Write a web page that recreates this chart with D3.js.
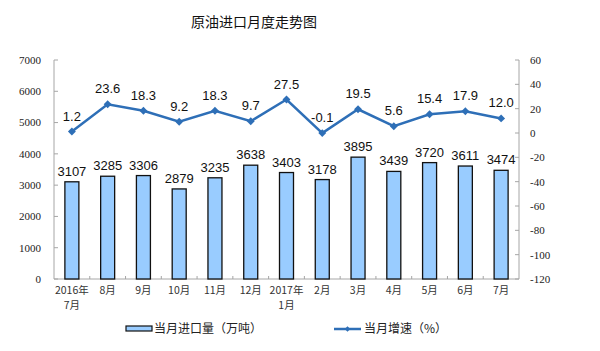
<!DOCTYPE html>
<html lang="zh">
<head>
<meta charset="utf-8">
<script src="https://cdn.jsdelivr.net/npm/d3@7"></script>
<style>
    body {margin: 0; background: #fff;}
    text {font-family: "Liberation Sans", Arial, sans-serif;}
    .cjk {font-family: "Noto Sans CJK SC", sans-serif;}
    .tick-num {font-family: "Liberation Serif", serif; font-size: 11px; fill: #222;}
</style>
</head>
<body>
<script>
    // chart data
    const categories = ["2016年|7月", "8月", "9月", "10月", "11月", "12月", "2017年|1月",
                        "2月", "3月", "4月", "5月", "6月", "7月"];
    const imports = [3107, 3285, 3306, 2879, 3235, 3638, 3403, 3178, 3895, 3439, 3720, 3611, 3474];
    const growth = [1.2, 23.6, 18.3, 9.2, 18.3, 9.7, 27.5, -0.1, 19.5, 5.6, 15.4, 17.9, 12.0];
    const leftTicks = [0, 1000, 2000, 3000, 4000, 5000, 6000, 7000];
    const rightTicks = [-120, -100, -80, -60, -40, -20, 0, 20, 40, 60];

    const dim = {width: 600, height: 351};
    const m = {left: 54, right: 519, top: 60, bottom: 279};

    const svg = d3.select("body").append("svg")
        .attr("width", dim.width)
        .attr("height", dim.height);

    const x = d3.scaleBand().domain(categories).range([m.left, m.right]);
    const yL = d3.scaleLinear().domain([0, 7000]).range([m.bottom, m.top]);
    const yR = d3.scaleLinear().domain([-120, 60]).range([m.bottom, m.top]);

    // title
    svg.append("text").attr("class", "cjk")
        .attr("x", 254).attr("y", 27)
        .attr("text-anchor", "middle")
        .style("font-size", "14px").style("fill", "#111")
        .text("原油进口月度走势图");

    const axisColor = "#a6a6a6";

    // left axis
    const gl = svg.append("g");
    gl.append("line").attr("x1", m.left).attr("x2", m.left)
        .attr("y1", m.top).attr("y2", m.bottom).attr("stroke", axisColor);
    leftTicks.forEach(t => {
        gl.append("line").attr("x1", m.left).attr("x2", m.left + 4)
            .attr("y1", yL(t)).attr("y2", yL(t)).attr("stroke", axisColor);
        gl.append("text").attr("class", "tick-num")
            .attr("x", 41).attr("y", yL(t)).attr("dy", "0.35em")
            .attr("text-anchor", "end").text(t);
    });

    // right axis
    const gr = svg.append("g");
    gr.append("line").attr("x1", m.right).attr("x2", m.right)
        .attr("y1", m.top).attr("y2", m.bottom).attr("stroke", axisColor);
    rightTicks.forEach(t => {
        gr.append("line").attr("x1", m.right - 4).attr("x2", m.right)
            .attr("y1", yR(t)).attr("y2", yR(t)).attr("stroke", axisColor);
        gr.append("text").attr("class", "tick-num")
            .attr("x", 530).attr("y", yR(t)).attr("dy", "0.35em")
            .attr("text-anchor", "start").text(t);
    });

    // bottom axis
    const gb = svg.append("g");
    gb.append("line").attr("x1", m.left).attr("x2", m.right)
        .attr("y1", m.bottom).attr("y2", m.bottom).attr("stroke", axisColor);
    categories.forEach((c, i) => {
        if (i > 0) {
            gb.append("line").attr("x1", x(c)).attr("x2", x(c))
                .attr("y1", m.bottom - 3).attr("y2", m.bottom).attr("stroke", axisColor);
        }
        const lines = c.split("|");
        lines.forEach((s, j) => {
            gb.append("text").attr("class", "cjk")
                .attr("x", x(c) + x.bandwidth() / 2)
                .attr("y", 294 + j * 15)
                .attr("text-anchor", "middle")
                .style("font-size", "10.5px").style("fill", "#333")
                .text(s);
        });
    });

    // bars
    const barW = 14;
    svg.append("g").selectAll("rect")
        .data(imports)
        .join("rect")
        .attr("x", (d, i) => x(categories[i]) + x.bandwidth() / 2 - barW / 2)
        .attr("y", d => yL(d))
        .attr("width", barW)
        .attr("height", d => yL(0) - yL(d))
        .attr("fill", "#99ccff")
        .attr("stroke", "#111")
        .attr("stroke-width", 1.3);

    svg.append("g").selectAll("text")
        .data(imports)
        .join("text")
        .attr("x", (d, i) => x(categories[i]) + x.bandwidth() / 2)
        .attr("y", d => yL(d) - 6)
        .attr("text-anchor", "middle")
        .style("font-size", "13px").style("fill", "#111")
        .text(d => d);

    // growth line
    const lineColor = "#2e6fb7";
    const line = d3.line()
        .x((d, i) => x(categories[i]) + x.bandwidth() / 2)
        .y(d => yR(d));

    svg.append("path")
        .datum(growth)
        .attr("d", line)
        .attr("fill", "none")
        .attr("stroke", lineColor)
        .attr("stroke-width", 2.5);

    const diamond = d3.symbol().type(d3.symbolDiamond2).size(40);
    svg.append("g").selectAll("path")
        .data(growth)
        .join("path")
        .attr("d", diamond)
        .attr("transform", (d, i) => `translate(${x(categories[i]) + x.bandwidth() / 2},${yR(d)})`)
        .attr("fill", lineColor);

    svg.append("g").selectAll("text")
        .data(growth)
        .join("text")
        .attr("x", (d, i) => x(categories[i]) + x.bandwidth() / 2)
        .attr("y", d => yR(d) - 11)
        .attr("text-anchor", "middle")
        .style("font-size", "13px").style("fill", "#111")
        .text(d => d.toFixed(1));

    // legend
    const lg = svg.append("g");
    lg.append("rect").attr("x", 126).attr("y", 326).attr("width", 26).attr("height", 5)
        .attr("fill", "#99ccff").attr("stroke", "#111").attr("stroke-width", 1.2);
    lg.append("text").attr("class", "cjk")
        .attr("x", 154).attr("y", 329).attr("dy", "0.35em")
        .style("font-size", "12px").style("fill", "#222")
        .text("当月进口量（万吨）");
    lg.append("line").attr("x1", 334).attr("x2", 361).attr("y1", 329).attr("y2", 329)
        .attr("stroke", lineColor).attr("stroke-width", 2.5);
    lg.append("path").attr("d", d3.symbol().type(d3.symbolDiamond2).size(20))
        .attr("transform", "translate(347.5,329)").attr("fill", lineColor);
    lg.append("text").attr("class", "cjk")
        .attr("x", 364).attr("y", 329).attr("dy", "0.35em")
        .style("font-size", "12px").style("fill", "#222")
        .text("当月增速（%）");
</script>
</body>
</html>
